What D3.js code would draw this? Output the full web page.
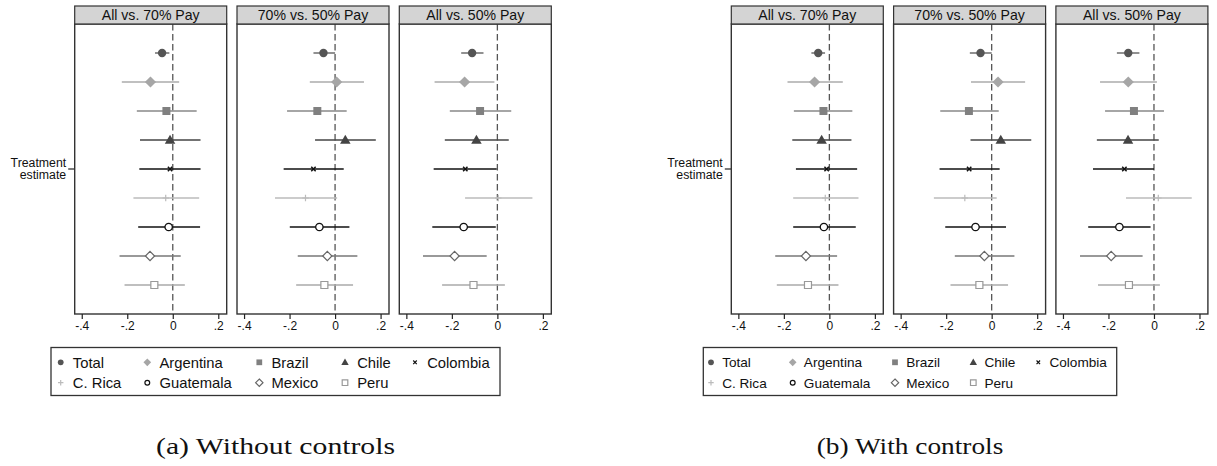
<!DOCTYPE html>
<html><head><meta charset="utf-8">
<script src="https://cdn.jsdelivr.net/npm/d3@7"></script>
<style>body{margin:0;background:#fff}svg{display:block}</style>
</head><body>
<svg id="c" width="1217" height="466"></svg>
<script>
// ---------------- DATA ----------------
const countries = ["Total","Argentina","Brazil","Chile","Colombia","C. Rica","Guatemala","Mexico","Peru"];
const panelTitles = ["All vs. 70% Pay","70% vs. 50% Pay","All vs. 50% Pay"];
const xTickValues = [-0.4,-0.2,0,0.2];
const xTickLabels = ["-.4","-.2","0",".2"];
const yLabel = ["Treatment","estimate"];
const captions = ["(a) Without controls","(b) With controls"];

// (a) Without controls
const a1Est = [-0.047,-0.098,-0.028,-0.012,-0.012,-0.031,-0.018,-0.100,-0.081];
const a1Lo  = [-0.078,-0.224,-0.158,-0.144,-0.147,-0.173,-0.152,-0.234,-0.212];
const a1Hi  = [-0.015, 0.028, 0.105, 0.122, 0.122, 0.116, 0.120, 0.035, 0.053];
const a2Est = [-0.051, 0.007,-0.078, 0.045,-0.095,-0.130,-0.069,-0.034,-0.047];
const a2Lo  = [-0.095,-0.111,-0.211,-0.088,-0.226,-0.264,-0.199,-0.164,-0.171];
const a2Hi  = [ 0.000, 0.127, 0.051, 0.179, 0.038, 0.009, 0.063, 0.098, 0.079];
const a3Est = [-0.111,-0.144,-0.076,-0.092,-0.141, 0.004,-0.148,-0.188,-0.105];
const a3Lo  = [-0.159,-0.276,-0.209,-0.231,-0.280,-0.142,-0.286,-0.327,-0.243];
const a3Hi  = [-0.061,-0.013, 0.061, 0.050,-0.003, 0.154,-0.007,-0.047, 0.033];
// (b) With controls
const b1Est = [-0.049,-0.065,-0.026,-0.034,-0.012,-0.018,-0.024,-0.103,-0.094];
const b1Lo  = [-0.079,-0.184,-0.156,-0.163,-0.147,-0.159,-0.159,-0.238,-0.231];
const b1Hi  = [-0.019, 0.059, 0.101, 0.097, 0.122, 0.128, 0.116, 0.034, 0.040];
const b2Est = [-0.049, 0.028,-0.100, 0.040,-0.099,-0.118,-0.071,-0.032,-0.054];
const b2Lo  = [-0.096,-0.091,-0.226,-0.093,-0.229,-0.254,-0.204,-0.162,-0.181];
const b2Hi  = [ 0.000, 0.147, 0.031, 0.174, 0.035, 0.022, 0.063, 0.100, 0.072];
const b3Est = [-0.113,-0.113,-0.088,-0.114,-0.130, 0.019,-0.152,-0.188,-0.110];
const b3Lo  = [-0.163,-0.237,-0.215,-0.251,-0.268,-0.123,-0.289,-0.325,-0.246];
const b3Hi  = [-0.064, 0.013, 0.044, 0.021, 0.000, 0.166,-0.015,-0.050, 0.026];

// ---------------- STYLE ----------------
const styles = {
  "Total":     {shape:"circle",   fill:"#555555", stroke:"none",    ci:"#555555", size:4.2, lsize:3.6},
  "Argentina": {shape:"diamond",  fill:"#a6a6a6", stroke:"none",    ci:"#ababab", size:5.6, lsize:4.8},
  "Brazil":    {shape:"square",   fill:"#808080", stroke:"none",    ci:"#888888", size:4.0, lsize:3.6},
  "Chile":     {shape:"triangle", fill:"#444444", stroke:"none",    ci:"#444444", size:5.0, lsize:4.4},
  "Colombia":  {shape:"x",        fill:"none",    stroke:"#111111", ci:"#111111", size:2.2, lsize:2.2, sw:1.5},
  "C. Rica":   {shape:"plus",     fill:"none",    stroke:"#bbbbbb", ci:"#bbbbbb", size:3.2, lsize:3.4, sw:1.2},
  "Guatemala": {shape:"circle",   fill:"none",    stroke:"#111111", ci:"#111111", size:3.7, lsize:3.0, sw:1.3},
  "Mexico":    {shape:"diamond",  fill:"none",    stroke:"#666666", ci:"#777777", size:4.6, lsize:4.6, sw:1.2},
  "Peru":      {shape:"square",   fill:"none",    stroke:"#999999", ci:"#aaaaaa", size:3.5, lsize:3.5, sw:1.2}
};
function shapePath(shape, s){
  switch(shape){
    case "circle": return d3.symbol(d3.symbolCircle, Math.PI*s*s)();
    case "diamond": return `M0,${-s}L${s},0L0,${s}L${-s},0Z`;
    case "square": return `M${-s},${-s}H${s}V${s}H${-s}Z`;
    case "triangle": return `M0,${-s*1.05}L${s*1.05},${s*0.75}L${-s*1.05},${s*0.75}Z`;
    case "x": return `M${-s},${-s}L${s},${s}M${-s},${s}L${s},${-s}`;
    case "plus": return `M${-s},0H${s}M0,${-s}V${s}`;
  }
}

const svg = d3.select("#c");
const FONT = "Liberation Sans, Arial, sans-serif";

const figures = [
  {x0:74.7, data:[[a1Est,a1Lo,a1Hi],[a2Est,a2Lo,a2Hi],[a3Est,a3Lo,a3Hi]],
   legend:{x:51, w:449, cols:[60.7,147.3,259.3,345,415], fs:14.8}, caption:captions[0], cx:275.5, cw:239},
  {x0:731.3, data:[[b1Est,b1Lo,b1Hi],[b2Est,b2Lo,b2Hi],[b3Est,b3Lo,b3Hi]],
   legend:{x:703.3, w:413.4, cols:[711,792.7,895,973.3,1038.3], fs:13.6}, caption:captions[1], cx:910, cw:186.6}
];

const panelW = 152, panelGap = 162.3;
const headTop = 6, plotTop = 24, plotBot = 314;
const x = d3.scaleLinear().domain([-0.431, 0.237]).range([0, panelW]);
const y = d3.scaleLinear().domain([0, 10]).range([plotTop, plotBot]);

figures.forEach(fig => {
  const g = svg.append("g");
  // y-axis label + tick
  g.append("line").attr("x1", fig.x0-6.5).attr("x2", fig.x0).attr("y1", y(5)).attr("y2", y(5))
    .attr("stroke","#222").attr("stroke-width",1.2);
  const yl = g.append("text").attr("x", fig.x0-8.5).attr("y", y(5)).attr("text-anchor","end")
    .attr("font-family",FONT).attr("font-size",12.3).attr("fill","#111");
  yl.append("tspan").attr("x", fig.x0-8.5).attr("dy","-1.7").text(yLabel[0]);
  yl.append("tspan").attr("x", fig.x0-8.5).attr("dy","11.6").text(yLabel[1]);

  fig.data.forEach((pd, pi) => {
    const [est, lo, hi] = pd;
    const px = fig.x0 + pi*panelGap;
    const pg = g.append("g").attr("transform", `translate(${px},0)`);
    // plot region
    pg.append("rect").attr("x",0).attr("y",plotTop).attr("width",panelW).attr("height",plotBot-plotTop)
      .attr("fill","#fff");
    // zero line
    pg.append("line").attr("x1",x(0)).attr("x2",x(0)).attr("y1",plotTop).attr("y2",plotBot)
      .attr("stroke","#555").attr("stroke-width",1.3).attr("stroke-dasharray","6.5,3.5");
    // CIs and points
    countries.forEach((c, i) => {
      const st = styles[c];
      pg.append("line").attr("x1",x(lo[i])).attr("x2",x(hi[i])).attr("y1",y(i+1)).attr("y2",y(i+1))
        .attr("stroke",st.ci).attr("stroke-width",1.3);
    });
    countries.forEach((c, i) => {
      const st = styles[c];
      pg.append("path").attr("d", shapePath(st.shape, st.size))
        .attr("transform",`translate(${x(est[i])},${y(i+1)})`)
        .attr("fill", st.fill === "none" ? (st.shape==="x"||st.shape==="plus" ? "none" : "#fff") : st.fill)
        .attr("stroke", st.stroke).attr("stroke-width", st.sw || 0);
    });
    // border
    pg.append("rect").attr("x",0).attr("y",plotTop).attr("width",panelW).attr("height",plotBot-plotTop)
      .attr("fill","none").attr("stroke","#333").attr("stroke-width",1.4);
    // header
    pg.append("rect").attr("x",0).attr("y",headTop).attr("width",panelW).attr("height",plotTop-headTop)
      .attr("fill","#d4d4d4").attr("stroke","#333").attr("stroke-width",1.2);
    pg.append("text").attr("x",panelW/2).attr("y",(headTop+plotTop)/2+5).attr("text-anchor","middle")
      .attr("font-family",FONT).attr("font-size",14.1).attr("fill","#111").text(panelTitles[pi]);
    // x axis
    const ax = d3.axisBottom(x).tickValues(xTickValues).tickSize(5).tickPadding(2)
      .tickFormat((d,k) => xTickLabels[k]);
    const axg = pg.append("g").attr("transform",`translate(0,${plotBot})`).call(ax);
    axg.select(".domain").remove();
    axg.selectAll("line").attr("stroke","#222").attr("stroke-width",1.2);
    axg.selectAll("text").attr("font-family",FONT).attr("font-size",12).attr("fill","#111");
  });

  // legend
  const L = fig.legend;
  g.append("rect").attr("x",L.x).attr("y",347.5).attr("width",L.w).attr("height",48)
    .attr("fill","#fff").attr("stroke","#333").attr("stroke-width",1.3);
  const rowsY = [362.3, 382.7];
  countries.forEach((c, i) => {
    const r = Math.floor(i/5), col = i%5;
    const st = styles[c];
    const sx = L.cols[col], sy = rowsY[r];
    g.append("path").attr("d", shapePath(st.shape, st.lsize*0.8))
      .attr("transform",`translate(${sx},${sy})`)
      .attr("fill", st.fill === "none" ? (st.shape==="x"||st.shape==="plus" ? "none" : "#fff") : st.fill)
      .attr("stroke", st.stroke).attr("stroke-width", st.sw ? Math.min(st.sw,1.2) : 0);
    g.append("text").attr("x", sx+L.fs*0.82).attr("y", sy+L.fs*0.36)
      .attr("font-family",FONT).attr("font-size",L.fs).attr("fill","#111").text(c);
  });

  // caption
  g.append("text").attr("x", fig.cx).attr("y", 454).attr("text-anchor","middle")
    .attr("font-family","Liberation Serif, 'DejaVu Serif', serif").attr("font-size",23)
    .attr("textLength", fig.cw).attr("lengthAdjust","spacingAndGlyphs")
    .attr("fill","#111").text(fig.caption);
});
</script>
</body></html>
